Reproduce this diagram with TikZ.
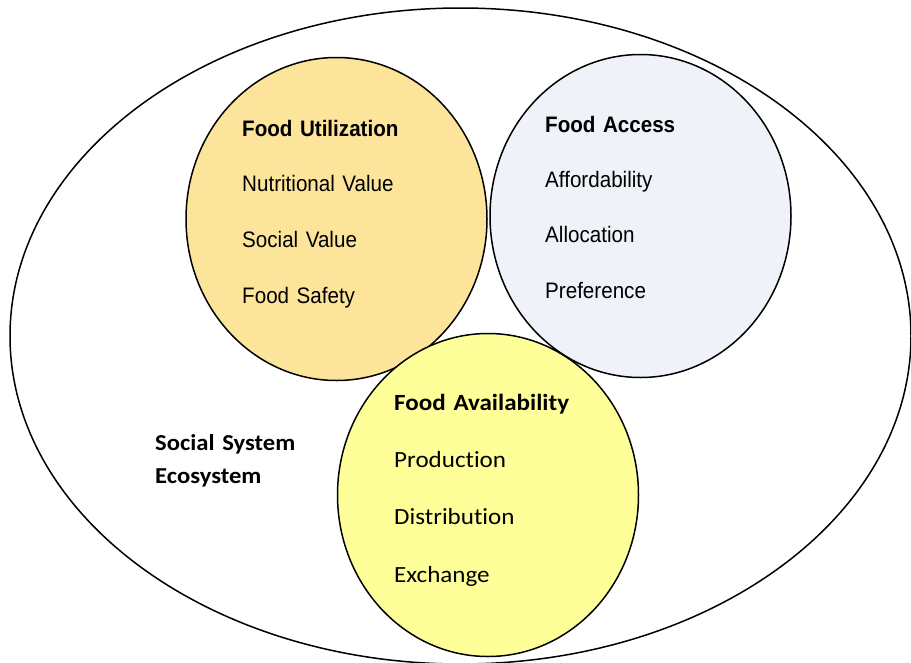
\documentclass[tikz,border=0pt]{standalone}
\usepackage{fontspec}
\setmainfont{Liberation Sans}[FakeStretch=0.92]
\newfontfamily\calibri{Carlito}[FakeStretch=1.08, Ligatures=NoCommon]
\usetikzlibrary{positioning,shapes.geometric}
\definecolor{utilfill}{HTML}{FDE49B}
\definecolor{accessfill}{HTML}{EFF2F8}
\definecolor{availfill}{HTML}{FFFF9A}
\tikzset{
    %Define style for the pillar circles
    pillar/.style={
           ellipse,
           draw=black, line width=1.5pt,
           minimum width=301pt,
           minimum height=323pt,
           inner sep=0pt},
    %Define style for the text lines
    head/.style={
           font=\fontsize{22.4}{24}\selectfont\bfseries,
           text width=190pt,
           align=left,
           inner sep=0pt,
           text height=15pt,
           text depth=5pt},
    item/.style={
           head,
           font=\fontsize{22.4}{24}\selectfont},
    chead/.style={
           head,
           font=\calibri\fontsize{23.2}{25}\selectfont\bfseries},
    citem/.style={
           head,
           font=\calibri\fontsize{23.2}{25}\selectfont},
    syslabel/.style={
           head,
           font=\calibri\fontsize{22.8}{24}\selectfont\bfseries}
}

\begin{document}
\begin{tikzpicture}[x=1pt, y=-1pt, node distance=35.5pt]
 \useasboundingbox (0,0) rectangle (911,662);
 %outer ellipse
    \node[ellipse, draw=black, line width=1.5pt, minimum width=901pt,
          minimum height=656pt] (eco) at (460.5,336) {};
 %circles
    \node[pillar, fill=utilfill] (util) at (336.5,219) {};
    \node[pillar, fill=accessfill] (access) at (640.5,216) {};
    \node[pillar, fill=availfill] (avail) at (488,495) {};
 %utilization
    \node[head, anchor=base west] (uhead) at (242,136) {Food Utilization};
    \node[item, below=of uhead] (u1) {Nutritional Value};
    \node[item, below=of u1] (u2) {Social Value};
    \node[item, below=of u2] (u3) {Food Safety};
 %access
    \node[head, anchor=base west] (ahead) at (545,132) {Food Access};
    \node[item, below=35pt of ahead] (a1) {Affordability};
    \node[item, below=35pt of a1] (a2) {Allocation};
    \node[item, below=35pt of a2] (a3) {Preference};
 %availability
    \node[chead, anchor=base west] (vhead) at (394,410) {Food Availability};
    \node[citem, below=37pt of vhead] (v1) {Production};
    \node[citem, below=37pt of v1] (v2) {Distribution};
    \node[citem, below=37pt of v2] (v3) {Exchange};
 %label
    \node[syslabel, anchor=base west] (sys) at (155,450) {Social System};
    \node[syslabel, below=13pt of sys] (eco2) {Ecosystem};
\end{tikzpicture}
\end{document}
